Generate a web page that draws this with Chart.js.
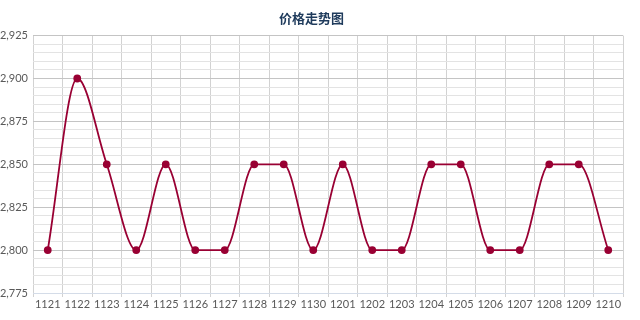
<!DOCTYPE html>
<html>
<head>
<meta charset="utf-8">
<script src="https://cdn.jsdelivr.net/npm/chart.js@4/dist/chart.umd.min.js"></script>
<style>
  html, body { margin: 0; padding: 0; background: #ffffff; }
  #wrap { width: 640px; height: 320px; }
</style>
</head>
<body>
<div id="wrap"><canvas id="c" width="640" height="320"></canvas></div>
<script>
// 日期（月日）
const dates = ['1121','1122','1123','1124','1125','1126','1127','1128','1129','1130',
               '1201','1202','1203','1204','1205','1206','1207','1208','1209','1210'];
// 价格
const prices = [2800, 2900, 2850, 2800, 2850, 2800, 2800, 2850, 2850, 2800,
                2850, 2800, 2800, 2850, 2850, 2800, 2800, 2850, 2850, 2800];
// 纵轴范围与刻度
const yMin = 2775;
const yMax = 2925;
const yMajorStep = 25;
const yMinorStep = 5;

const lineColor = '#990033';
const tickFont = { family: 'Lato, "Open Sans", sans-serif', size: 11 };

new Chart(document.getElementById('c'), {
  type: 'line',
  data: {
    labels: dates,
    datasets: [{
      label: '价格',
      data: prices,
      borderColor: lineColor,
      backgroundColor: lineColor,
      borderWidth: 1.8,
      pointRadius: 3,
      pointHoverRadius: 3,
      pointBackgroundColor: lineColor,
      pointBorderColor: lineColor,
      cubicInterpolationMode: 'monotone',
      fill: false
    }]
  },
  options: {
    responsive: false,
    animation: false,
    layout: { padding: { left: 0, right: 17, top: 0, bottom: 0 } },
    plugins: {
      legend: { display: false },
      tooltip: { enabled: false },
      title: {
        display: true,
        text: '价格走势图',
        color: '#1f3b5c',
        font: { family: '"Noto Sans CJK SC", sans-serif', size: 13, weight: 'bold', lineHeight: 1.2 },
        padding: { top: 10, bottom: 10 }
      }
    },
    scales: {
      x: {
        offset: true,
        grid: {
          offset: true,
          color: '#d2d2d2',
          lineWidth: 1,
          drawTicks: true,
          tickLength: 4
        },
        border: { color: '#d4dce8' },
        ticks: {
          color: '#595959',
          font: tickFont,
          maxRotation: 0,
          autoSkip: false,
          padding: 1
        },
        afterFit: (scale) => { scale.height = 27; }
      },
      y: {
        min: yMin,
        max: yMax,
        grid: {
          color: (ctx) => (ctx.tick && ctx.tick.value % yMajorStep === 0) ? '#c4c4c4' : '#e3e3e3',
          lineWidth: 1,
          drawTicks: false
        },
        border: { display: false },
        ticks: {
          stepSize: yMinorStep,
          autoSkip: false,
          color: '#595959',
          padding: 5,
          font: tickFont,
          callback: (v) => (v % yMajorStep === 0) ? v.toLocaleString('en-US') : ''
        },
        afterFit: (scale) => { scale.width = 33; }
      }
    }
  }
});
</script>
</body>
</html>
